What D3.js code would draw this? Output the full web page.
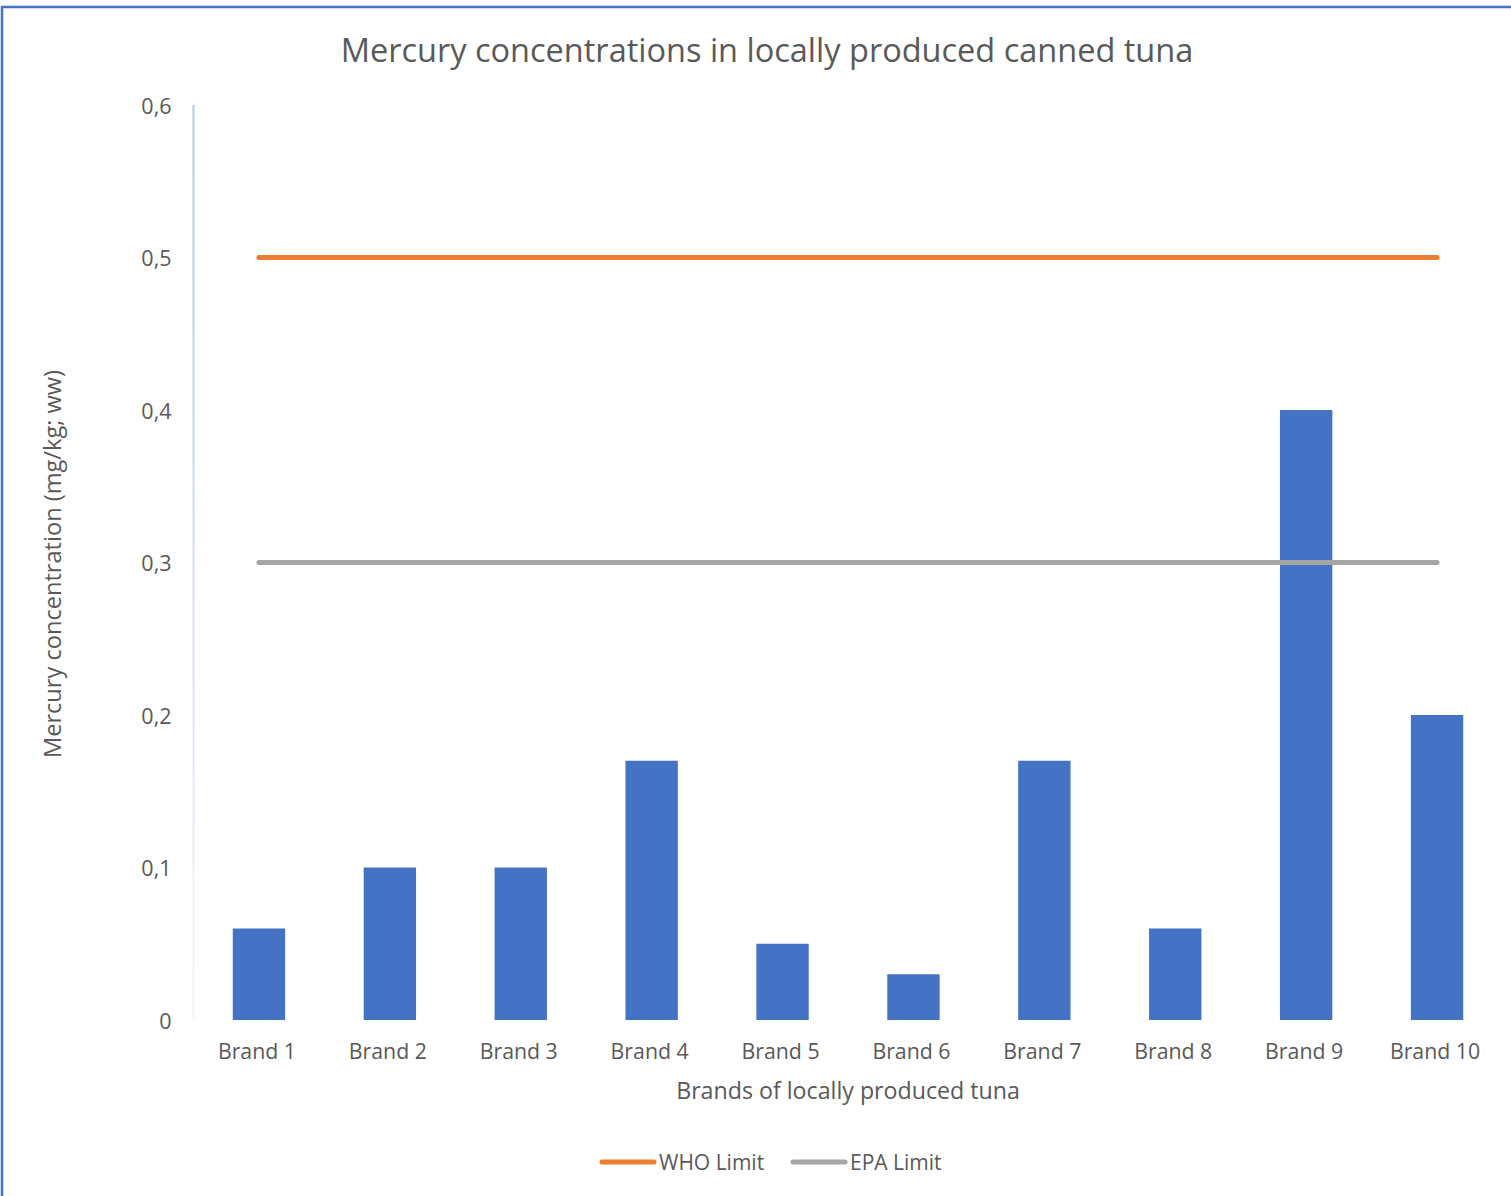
<!DOCTYPE html>
<html><head><meta charset="utf-8">
<script src="https://cdn.jsdelivr.net/npm/d3@7"></script>
<style>html,body{margin:0;padding:0;background:#fff;overflow:hidden}</style>
</head><body>
<script>
const categories = ["Brand 1","Brand 2","Brand 3","Brand 4","Brand 5","Brand 6","Brand 7","Brand 8","Brand 9","Brand 10"];
const values = [0.06,0.10,0.10,0.17,0.05,0.03,0.17,0.06,0.40,0.20];
const whoLimit = [0.5,0.5,0.5,0.5,0.5,0.5,0.5,0.5,0.5,0.5];
const epaLimit = [0.3,0.3,0.3,0.3,0.3,0.3,0.3,0.3,0.3,0.3];
const yTicks = [0,0.1,0.2,0.3,0.4,0.5,0.6];
const title = "Mercury concentrations in locally produced canned tuna";
const xTitle = "Brands of locally produced tuna";
const yTitle = "Mercury concentration (mg/kg; ww)";
const legendLabels = ["WHO Limit","EPA Limit"];

const W = 1511, H = 1196;
const font = "'Open Sans', 'Noto Sans', sans-serif";
const textCol = "#595959";
const svg = d3.select("body").append("svg").attr("width", W).attr("height", H);

// border
svg.append("rect").attr("x", 2).attr("y", 7).attr("width", W + 10).attr("height", H + 10)
  .attr("fill", "#fff").attr("stroke", "#4472C4").attr("stroke-width", 2.5);

const plotL = 193.5, plotR = 1502.5, plotT = 105, plotB = 1020;
const x = d3.scaleBand().domain(categories).range([plotL, plotR]).paddingInner(0.6).paddingOuter(0.3);
const y = d3.scaleLinear().domain([0, 0.6]).range([plotB, plotT]);

// y axis line with fading gradient
const defs = svg.append("defs");
const grad = defs.append("linearGradient").attr("id", "axg").attr("x1", 0).attr("x2", 0).attr("y1", 0).attr("y2", 1);
grad.append("stop").attr("offset", "0%").attr("stop-color", "#b4c7e7");
grad.append("stop").attr("offset", "100%").attr("stop-color", "#f4f6fb");
svg.append("rect").attr("x", plotL - 1).attr("y", y(0.6)).attr("width", 2).attr("height", y(0) - y(0.6)).attr("fill", "url(#axg)");

// y axis labels
const yAxis = d3.axisLeft(y).tickValues(yTicks).tickSize(0).tickPadding(0)
  .tickFormat(d => d === 0 ? "0" : d3.format(".1f")(d).replace(".", ","));
const ya = svg.append("g").attr("transform", `translate(${plotL - 22},1.5)`).call(yAxis);
ya.select(".domain").remove();
ya.selectAll("text").attr("font-family", font).attr("font-size", 21.5).attr("fill", textCol);

// bars
svg.append("g").selectAll("rect").data(values).join("rect")
  .attr("x", (d, i) => x(categories[i]))
  .attr("width", x.bandwidth())
  .attr("y", d => y(d))
  .attr("height", d => y(0) - y(d))
  .attr("fill", "#4472C4");

// x axis labels
const xAxis = d3.axisBottom(x).tickSize(0).tickPadding(0);
const xa = svg.append("g").attr("transform", `translate(-2,${plotB + 24})`).call(xAxis);
xa.select(".domain").remove();
xa.selectAll("text").attr("font-family", font).attr("font-size", 21.3).attr("fill", textCol).attr("dy", "0.71em");

// limit lines
const line = d3.line().x((d, i) => x(categories[i]) + x.bandwidth() / 2).y(d => y(d));
svg.append("path").datum(whoLimit).attr("d", line).attr("fill", "none")
  .attr("stroke", "#ED7D31").attr("stroke-width", 5).attr("stroke-linecap", "round");
svg.append("path").datum(epaLimit).attr("d", line).attr("fill", "none")
  .attr("stroke", "#A5A5A5").attr("stroke-width", 5).attr("stroke-linecap", "round");

// titles
svg.append("text").attr("x", 767).attr("y", 62).attr("text-anchor", "middle")
  .attr("font-family", font).attr("font-size", 32.5).attr("fill", textCol).text(title);
svg.append("text").attr("x", 848).attr("y", 1099).attr("text-anchor", "middle")
  .attr("font-family", font).attr("font-size", 23.2).attr("fill", textCol).text(xTitle);
svg.append("text").attr("transform", "translate(61,564) rotate(-90)").attr("text-anchor", "middle")
  .attr("font-family", font).attr("font-size", 23.6).attr("fill", textCol).text(yTitle);

// legend
const legendColors = ["#ED7D31", "#A5A5A5"];
const legendX = [602, 793];
const lg = svg.append("g");
legendLabels.forEach((lab, i) => {
  lg.append("line").attr("x1", legendX[i]).attr("x2", legendX[i] + 52).attr("y1", 1162).attr("y2", 1162)
    .attr("stroke", legendColors[i]).attr("stroke-width", 5).attr("stroke-linecap", "round");
  lg.append("text").attr("x", legendX[i] + 57).attr("y", 1169.5)
    .attr("font-family", font).attr("font-size", 21).attr("fill", textCol).text(lab);
});
</script>
</body></html>
